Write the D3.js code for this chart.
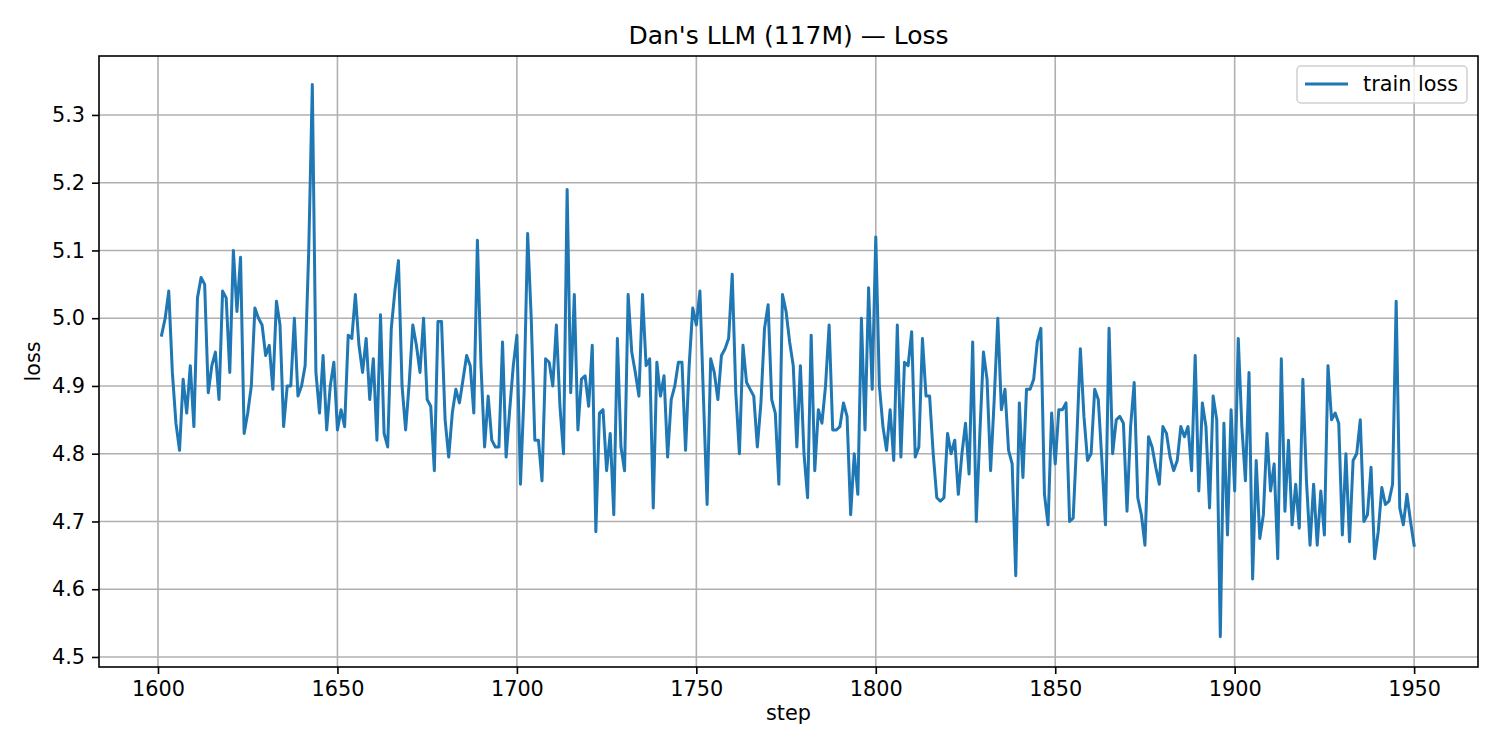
<!DOCTYPE html>
<html><head><meta charset="utf-8">
<script src="https://cdn.jsdelivr.net/npm/d3@7"></script>
<style>body{margin:0;background:#fff}text{font-family:"DejaVu Sans",sans-serif}</style>
</head><body><svg id="c" width="1500" height="750"></svg>
<script>
const startStep = 1601;
const loss = [
4.975,5.00,5.04,4.92,4.845,4.805,4.91,4.86,4.93,4.84,5.03,5.06,5.05,4.89,4.93,4.95,4.88,5.04,5.03,4.92,5.10,5.01,5.09,4.83,4.86,4.90,5.015,5.00,4.99,4.945,4.96,4.895,5.025,4.99,4.84,4.90,4.90,5.00,4.885,4.90,4.93,5.10,5.345,4.92,4.86,4.945,4.835,4.90,4.935,4.835,
4.865,4.84,4.975,4.97,5.035,4.96,4.92,4.97,4.88,4.94,4.82,5.005,4.83,4.81,4.985,5.04,5.085,4.90,4.835,4.905,4.99,4.96,4.92,5.00,4.88,4.87,4.775,4.995,4.995,4.85,4.795,4.86,4.895,4.875,4.91,4.945,4.93,4.86,5.115,4.93,4.81,4.885,4.82,4.81,4.81,4.965,4.795,4.865,4.93,4.975,
4.755,4.89,5.125,5.00,4.82,4.82,4.76,4.94,4.935,4.90,4.99,4.87,4.80,5.19,4.89,5.035,4.835,4.91,4.915,4.87,4.96,4.685,4.86,4.865,4.775,4.83,4.71,4.97,4.81,4.775,5.035,4.95,4.92,4.885,5.035,4.93,4.94,4.72,4.935,4.885,4.915,4.795,4.88,4.90,4.935,4.935,4.805,4.93,5.015,4.99,
5.04,4.88,4.725,4.94,4.92,4.88,4.945,4.955,4.97,5.065,4.89,4.80,4.96,4.905,4.895,4.885,4.81,4.875,4.985,5.02,4.88,4.86,4.755,5.035,5.01,4.965,4.93,4.81,4.93,4.80,4.735,4.975,4.775,4.865,4.845,4.90,4.99,4.835,4.835,4.84,4.875,4.855,4.71,4.80,4.74,5.00,4.835,5.045,4.895,5.12,
4.90,4.84,4.805,4.865,4.79,4.99,4.795,4.935,4.93,4.98,4.795,4.81,4.97,4.885,4.885,4.80,4.735,4.73,4.735,4.83,4.80,4.82,4.74,4.80,4.845,4.77,4.965,4.70,4.83,4.95,4.91,4.775,4.88,5.00,4.865,4.895,4.805,4.785,4.62,4.875,4.765,4.895,4.895,4.91,4.965,4.985,4.74,4.695,4.86,4.785,
4.865,4.865,4.875,4.70,4.705,4.82,4.955,4.855,4.79,4.80,4.895,4.88,4.79,4.695,4.985,4.80,4.85,4.855,4.845,4.715,4.84,4.905,4.735,4.71,4.665,4.825,4.81,4.78,4.755,4.84,4.83,4.795,4.775,4.79,4.84,4.825,4.84,4.775,4.945,4.745,4.875,4.84,4.72,4.885,4.85,4.53,4.845,4.68,4.865,4.745,
4.97,4.84,4.76,4.92,4.615,4.79,4.675,4.71,4.83,4.745,4.785,4.645,4.94,4.715,4.82,4.695,4.755,4.69,4.91,4.76,4.665,4.755,4.665,4.745,4.68,4.93,4.85,4.86,4.845,4.68,4.80,4.67,4.79,4.80,4.85,4.70,4.71,4.78,4.645,4.685,4.75,4.725,4.73,4.755,5.025,4.72,4.695,4.74,4.70,4.665
];
const xTicks = [1600,1650,1700,1750,1800,1850,1900,1950];
const yTicks = [4.5,4.6,4.7,4.8,4.9,5.0,5.1,5.2,5.3];
const title = "Dan's LLM (117M) — Loss", xLabel = "step", yLabel = "loss", seriesName = "train loss";

const L=99,R=1478,T=56,B=667;
const svg=d3.select("#c");
const x=d3.scaleLinear().domain([1583.56,1967.8]).range([L,R]);
const y=d3.scaleLinear().domain([4.4852,5.387]).range([B,T]);
const data=loss.map((v,i)=>({s:startStep+i,v}));
svg.append("g").selectAll("line").data(xTicks).join("line")
 .attr("x1",d=>x(d)).attr("x2",d=>x(d)).attr("y1",T).attr("y2",B).attr("stroke","#b0b0b0").attr("stroke-width",1.6);
svg.append("g").selectAll("line").data(yTicks).join("line")
 .attr("y1",d=>y(d)).attr("y2",d=>y(d)).attr("x1",L).attr("x2",R).attr("stroke","#b0b0b0").attr("stroke-width",1.6);
svg.append("path").datum(data).attr("fill","none").attr("stroke","#1f77b4").attr("stroke-width",3)
 .attr("stroke-linejoin","round").attr("stroke-linecap","square").attr("d",d3.line().x(d=>x(d.s)).y(d=>y(d.v)));
const xa=svg.append("g").attr("transform",`translate(0,${B})`).call(d3.axisBottom(x).tickValues(xTicks).tickSize(7).tickPadding(7).tickFormat(d3.format("d")));
const ya=svg.append("g").attr("transform",`translate(${L},0)`).call(d3.axisLeft(y).tickValues(yTicks).tickSize(7).tickPadding(7).tickFormat(d3.format(".1f")));
[xa,ya].forEach(g=>{g.select(".domain").remove();g.selectAll("text").attr("font-size",20.8).attr("fill","#000").attr("font-family","DejaVu Sans");g.selectAll("line").attr("stroke","#000").attr("stroke-width",1.6);});
svg.append("rect").attr("x",L).attr("y",T).attr("width",R-L).attr("height",B-T).attr("fill","none").attr("stroke","#000").attr("stroke-width",1.6);
svg.append("text").attr("x",(L+R)/2).attr("y",44).attr("text-anchor","middle").attr("font-size",25).text(title);
svg.append("text").attr("x",(L+R)/2).attr("y",720).attr("text-anchor","middle").attr("font-size",20.8).text(xLabel);
svg.append("text").attr("transform",`translate(40,${(T+B)/2}) rotate(-90)`).attr("text-anchor","middle").attr("font-size",20.8).text(yLabel);
const lg=svg.append("g");
lg.append("rect").attr("x",1297).attr("y",66).attr("width",170).attr("height",37).attr("rx",4).attr("fill","#fff").attr("fill-opacity",0.8).attr("stroke","#d0d0d0").attr("stroke-width",1.5);
lg.append("line").attr("x1",1305).attr("x2",1348).attr("y1",84).attr("y2",84).attr("stroke","#1f77b4").attr("stroke-width",3);
lg.append("text").attr("x",1363).attr("y",91).attr("font-size",20.8).text(seriesName);
</script></body></html>
